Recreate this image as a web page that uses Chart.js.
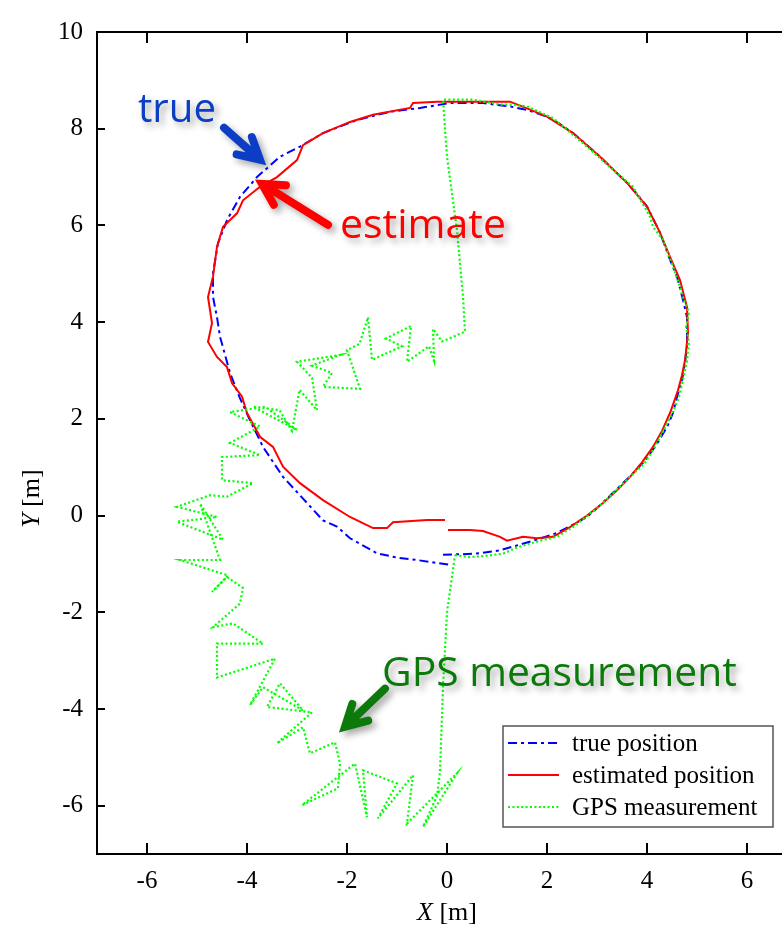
<!DOCTYPE html>
<html>
<head>
<meta charset="utf-8">
<script src="https://cdn.jsdelivr.net/npm/chart.js@4.4.1/dist/chart.umd.min.js"></script>
<style>
  html, body { margin: 0; padding: 0; background: #fff; overflow: hidden; }
  #wrap { width: 782px; height: 926px; overflow: hidden; position: relative; }
  canvas { display: block; }
</style>
</head>
<body>
<div id="wrap"><canvas id="c" width="830" height="926"></canvas></div>
<script>
// Axis ticks
const xTicks = [-6, -4, -2, 0, 2, 4, 6];
const yTicks = [-6, -4, -2, 0, 2, 4, 6, 8, 10];

// True trajectory [m]
const trueX = [-0.08, 0.30, 0.66, 1.06, 1.46, 1.85, 2.20, 2.50, 2.80, 3.05,
  3.32, 3.62, 3.92, 4.18, 4.40, 4.52, 4.60, 4.70, 4.76, 4.80,
  4.80, 4.80, 4.72, 4.66, 4.60, 4.46, 4.26, 4.00, 3.80, 3.60,
  3.30, 3.06, 2.80, 2.52, 2.25, 2.00, 1.60, 1.26, 0.72, 0.06,
  -0.54, -1.14, -1.80, -2.48, -2.94, -3.34, -3.80, -4.14, -4.40, -4.58,
  -4.68, -4.68, -4.60, -4.54, -4.34, -4.15, -3.94, -3.68, -3.28, -2.80,
  -2.48, -2.20, -1.94, -1.40, -1.00, -0.60, 0.06];
const trueY = [-0.81, -0.80, -0.78, -0.72, -0.60, -0.48, -0.36, -0.20, -0.03, 0.20,
  0.47, 0.77, 1.09, 1.45, 1.83, 2.12, 2.45, 2.80, 3.16, 3.50,
  3.78, 4.10, 4.46, 4.70, 4.94, 5.29, 5.85, 6.39, 6.65, 6.88,
  7.18, 7.42, 7.66, 7.91, 8.10, 8.25, 8.39, 8.46, 8.53, 8.53,
  8.43, 8.35, 8.18, 7.91, 7.63, 7.42, 7.00, 6.59, 6.11, 5.63,
  5.01, 4.52, 4.10, 3.70, 2.95, 2.45, 1.97, 1.42, 0.80, 0.26,
  -0.10, -0.23, -0.47, -0.78, -0.87, -0.92, -1.02];

// Filter estimate [m]
const estX = [0.02, 0.46, 0.72, 1.06, 1.20, 1.52, 1.80, 2.12, 2.46, 2.80,
  3.12, 3.40, 3.66, 3.90, 4.12, 4.30, 4.46, 4.62, 4.70, 4.76,
  4.82, 4.80, 4.66, 4.46, 4.26, 4.00, 3.60, 3.06, 2.52, 2.00,
  1.60, 1.26, 0.50, -0.20, -0.68, -0.74, -1.48, -1.94, -2.48, -2.88,
  -3.00, -3.40, -3.74, -4.08, -4.20, -4.48, -4.60, -4.68, -4.78, -4.70,
  -4.78, -4.60, -4.40, -4.30, -4.10, -4.00, -3.74, -3.48, -3.28, -2.94,
  -2.48, -1.94, -1.48, -1.20, -1.08, -0.40, -0.04];
const estY = [-0.30, -0.30, -0.32, -0.44, -0.52, -0.44, -0.47, -0.44, -0.24, 0.00,
  0.26, 0.52, 0.80, 1.10, 1.42, 1.75, 2.12, 2.59, 2.90, 3.21,
  3.77, 4.31, 4.87, 5.35, 5.85, 6.39, 6.88, 7.42, 7.91, 8.25,
  8.42, 8.56, 8.56, 8.56, 8.53, 8.43, 8.29, 8.14, 7.91, 7.66,
  7.35, 7.00, 6.80, 6.52, 6.25, 5.97, 5.56, 4.94, 4.52, 3.98,
  3.59, 3.28, 3.07, 2.74, 2.46, 2.12, 1.63, 1.42, 1.01, 0.67,
  0.32, -0.03, -0.26, -0.26, -0.14, -0.09, -0.09];

// GPS fixes [m]
const gpsX = [0.16, 0.46, 0.80, 1.12, 1.40, 1.66, 1.95, 2.20, 2.50, 2.82,
  3.10, 3.36, 3.66, 3.95, 4.15, 4.35, 4.50, 4.64, 4.72, 4.80,
  4.84, 4.78, 4.84, 4.72, 4.66, 4.52, 4.32, 4.12, 4.06, 3.72,
  3.32, 2.80, 2.12, 1.60, 1.30, 1.06, 0.52, -0.08, 0.00, 0.20,
  0.32, 0.36, -0.10, -0.28, -0.26, -0.36, -0.80, -0.72, -1.22, -0.90,
  -1.50, -1.58, -1.75, -2.00, -1.74, -2.48, -2.30, -2.70, -2.14, -3.00,
  -2.70, -2.60, -2.95, -3.10, -3.35, -3.88, -3.00, -3.64, -4.34, -3.74,
  -4.34, -3.74, -4.50, -4.50, -3.88, -4.40, -4.74, -5.40, -4.60, -5.40,
  -4.48, -4.94, -4.54, -5.34, -4.38, -4.70, -4.40, -4.08, -4.14, -4.68,
  -4.28, -3.68, -4.60, -4.60, -3.44, -3.94, -3.68, -2.88, -3.34, -3.60,
  -2.70, -3.40, -2.88, -2.74, -2.24, -2.14, -2.18, -2.90, -1.84, -1.60,
  -1.68, -1.00, -1.38, -0.68, -0.80, 0.20, -0.48, -0.20, -0.14, -0.08,
  0.00, 0.16];
const gpsY = [-0.82, -0.86, -0.83, -0.79, -0.66, -0.58, -0.50, -0.44, -0.25, 0.00,
  0.24, 0.50, 0.80, 1.08, 1.40, 1.80, 2.10, 2.45, 2.80, 3.20,
  3.60, 3.90, 4.20, 4.50, 4.73, 5.15, 5.70, 5.97, 6.18, 6.80,
  7.15, 7.63, 8.22, 8.46, 8.50, 8.50, 8.60, 8.60, 7.42, 5.90,
  4.53, 3.80, 3.60, 3.86, 3.20, 3.50, 3.18, 3.92, 3.66, 3.50,
  3.22, 4.10, 3.55, 3.42, 2.62, 2.66, 2.95, 3.10, 3.32, 3.18,
  2.85, 2.18, 2.60, 1.75, 2.18, 2.25, 1.77, 2.25, 2.14, 1.84,
  1.50, 1.25, 1.21, 0.73, 0.67, 0.39, 0.42, 0.18, -0.03, -0.13,
  -0.50, 0.25, -0.92, -0.92, -1.24, -1.58, -1.27, -1.50, -1.82, -2.31,
  -2.23, -2.65, -2.65, -3.35, -2.96, -3.92, -3.55, -4.03, -3.47, -3.96,
  -4.07, -4.71, -4.38, -4.92, -4.69, -5.13, -5.64, -5.99, -5.13, -6.24,
  -5.27, -5.54, -6.26, -5.37, -6.37, -5.33, -6.44, -5.80, -5.30, -3.55,
  -2.00, -0.82];

const seriesLabels = ['true position', 'estimated position', 'GPS measurement'];

const pts = (xs, ys) => xs.map((x, i) => ({ x, y: ys[i] }));

const SERIF = '"Liberation Serif", "Times New Roman", serif';
const SANS = '"Open Sans", "Noto Sans", sans-serif';

// Boxed frame with inward tick marks and axis titles
const framePlugin = {
  id: 'frame',
  afterDatasetsDraw(chart) {
    const { ctx, chartArea: a, scales: { x, y } } = chart;
    ctx.save();
    ctx.strokeStyle = '#000';
    ctx.lineWidth = 2;
    ctx.beginPath();
    ctx.rect(a.left, a.top, a.right - a.left, a.bottom - a.top);
    xTicks.forEach(v => {
      const p = Math.round(x.getPixelForValue(v));
      ctx.moveTo(p, a.bottom); ctx.lineTo(p, a.bottom - 11);
      ctx.moveTo(p, a.top); ctx.lineTo(p, a.top + 11);
    });
    yTicks.forEach(v => {
      const p = Math.round(y.getPixelForValue(v));
      ctx.moveTo(a.left, p); ctx.lineTo(a.left + 8, p);
      ctx.moveTo(a.right, p); ctx.lineTo(a.right - 8, p);
    });
    ctx.stroke();

    // axis titles: italic variable name, upright unit
    ctx.fillStyle = '#000';
    const drawTitle = (v, unit) => {
      ctx.font = 'italic 26px ' + SERIF;
      const w1 = ctx.measureText(v).width;
      ctx.font = '26px ' + SERIF;
      const w2 = ctx.measureText(unit).width;
      const start = -(w1 + w2) / 2;
      ctx.textBaseline = 'alphabetic';
      ctx.textAlign = 'left';
      ctx.font = 'italic 26px ' + SERIF;
      ctx.fillText(v, start, 0);
      ctx.font = '26px ' + SERIF;
      ctx.fillText(unit, start + w1, 0);
    };
    ctx.save();
    ctx.translate(x.getPixelForValue(0), a.bottom + 66);
    drawTitle('X', ' [m]');
    ctx.restore();
    ctx.save();
    ctx.translate(a.left - 58, y.getPixelForValue(0.35));
    ctx.rotate(-Math.PI / 2);
    drawTitle('Y', ' [m]');
    ctx.restore();
    ctx.restore();
  }
};

// Boxed legend in the lower right of the plot
const legendPlugin = {
  id: 'boxLegend',
  afterDatasetsDraw(chart) {
    const { ctx, chartArea: a } = chart;
    const left = a.left + 406, top = a.top + 694, w = 270, h = 101;
    ctx.save();
    ctx.fillStyle = '#fff';
    ctx.fillRect(left, top, w, h);
    ctx.strokeStyle = '#555';
    ctx.lineWidth = 1.5;
    ctx.strokeRect(left, top, w, h);
    ctx.font = '25px ' + SERIF;
    ctx.textBaseline = 'middle';
    ctx.textAlign = 'left';
    chart.data.datasets.forEach((ds, i) => {
      const cy = top + 17 + i * 32;
      ctx.save();
      ctx.strokeStyle = ds.borderColor;
      ctx.lineWidth = ds.borderWidth;
      ctx.setLineDash(ds.borderDash || []);
      ctx.beginPath();
      ctx.moveTo(left + 5, cy);
      ctx.lineTo(left + 56, cy);
      ctx.stroke();
      ctx.restore();
      ctx.fillStyle = '#000';
      ctx.fillText(ds.label, left + 69, cy + 1);
    });
    ctx.restore();
  }
};

// Callout labels with arrows, anchored in data units
const callouts = [
  { text: 'true', color: '#0b3ec4', textAt: [-6.18, 8.14], textWidth: 78, tail: [-4.46, 8.02], tip: [-3.74, 7.36] },
  { text: 'estimate', color: '#ff0000', textAt: [-2.14, 5.74], textWidth: 166, tail: [-2.38, 6.01], tip: [-3.70, 6.86] },
  { text: 'GPS measurement', color: '#0b7a0b', textAt: [-1.30, -3.53], textWidth: 355, tail: [-1.24, -3.58], tip: [-2.04, -4.37] }
];

const calloutPlugin = {
  id: 'callouts',
  afterDraw(chart) {
    const { ctx, scales: { x, y } } = chart;
    ctx.save();
    ctx.shadowColor = 'rgba(0,0,0,0.35)';
    ctx.shadowBlur = 7;
    ctx.shadowOffsetX = 4;
    ctx.shadowOffsetY = 4;
    callouts.forEach(c => {
      // label text, sized to its span
      ctx.font = '40px ' + SANS;
      const size = 40 * c.textWidth / ctx.measureText(c.text).width;
      ctx.font = size.toFixed(1) + 'px ' + SANS;
      ctx.fillStyle = c.color;
      ctx.textAlign = 'left';
      ctx.textBaseline = 'alphabetic';
      ctx.fillText(c.text, x.getPixelForValue(c.textAt[0]), y.getPixelForValue(c.textAt[1]));

      // arrow with chevron head
      const x1 = x.getPixelForValue(c.tail[0]), y1 = y.getPixelForValue(c.tail[1]);
      const x2 = x.getPixelForValue(c.tip[0]), y2 = y.getPixelForValue(c.tip[1]);
      const ang = Math.atan2(y2 - y1, x2 - x1);
      const head = 24, spread = 0.5;
      ctx.strokeStyle = c.color;
      ctx.lineWidth = 8;
      ctx.lineCap = 'round';
      ctx.lineJoin = 'miter';
      ctx.beginPath();
      ctx.moveTo(x1, y1);
      ctx.lineTo(x2 - 4 * Math.cos(ang), y2 - 4 * Math.sin(ang));
      ctx.moveTo(x2 - head * Math.cos(ang - spread), y2 - head * Math.sin(ang - spread));
      ctx.lineTo(x2, y2);
      ctx.lineTo(x2 - head * Math.cos(ang + spread), y2 - head * Math.sin(ang + spread));
      ctx.stroke();
    });
    ctx.restore();
  }
};

const tickFont = { family: SERIF, size: 25 };

new Chart(document.getElementById('c'), {
  type: 'scatter',
  data: {
    datasets: [
      { label: seriesLabels[0], data: pts(trueX, trueY), borderColor: '#0000ff', backgroundColor: '#0000ff',
        borderWidth: 2, borderDash: [9, 4, 3, 4], showLine: true, pointRadius: 0, order: 3 },
      { label: seriesLabels[1], data: pts(estX, estY), borderColor: '#ff0000', backgroundColor: '#ff0000',
        borderWidth: 2, showLine: true, pointRadius: 0, order: 2 },
      { label: seriesLabels[2], data: pts(gpsX, gpsY), borderColor: '#00ff00', backgroundColor: '#00ff00',
        borderWidth: 2.2, borderDash: [2, 2.4], showLine: true, pointRadius: 0, order: 1 }
    ]
  },
  options: {
    responsive: false,
    animation: false,
    devicePixelRatio: 1,
    events: [],
    layout: { padding: { left: 0, top: 32, right: 33, bottom: 0 } },
    plugins: { legend: { display: false }, tooltip: { enabled: false } },
    scales: {
      x: {
        type: 'linear', min: -7, max: 7,
        afterBuildTicks: s => { s.ticks = xTicks.map(v => ({ value: v })); },
        afterFit: s => { s.height = 72; },
        grid: { display: false, drawTicks: false },
        border: { display: false },
        ticks: { font: tickFont, color: '#000', padding: 12, maxRotation: 0, autoSkip: false }
      },
      y: {
        type: 'linear', min: -7, max: 10,
        afterBuildTicks: s => { s.ticks = yTicks.map(v => ({ value: v })); },
        afterFit: s => { s.width = 97; },
        grid: { display: false, drawTicks: false },
        border: { display: false },
        ticks: { font: tickFont, color: '#000', padding: 14, autoSkip: false }
      }
    }
  },
  plugins: [framePlugin, legendPlugin, calloutPlugin]
});
</script>
</body>
</html>
